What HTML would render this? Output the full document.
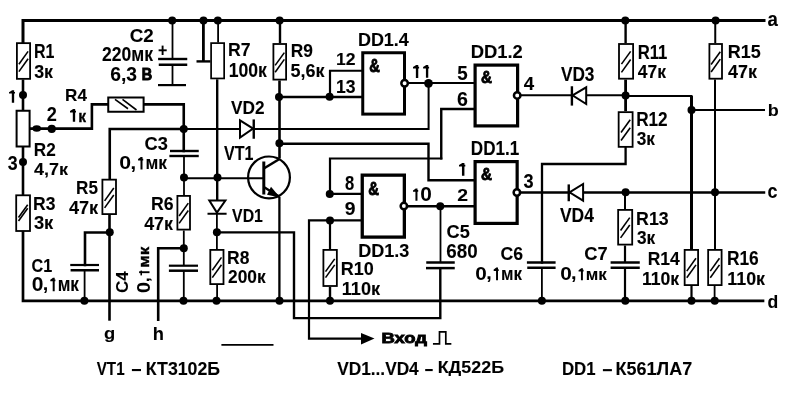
<!DOCTYPE html><html><head><meta charset="utf-8"><style>html,body{margin:0;padding:0;background:#fff;}body{width:803px;height:401px;overflow:hidden;font-family:"Liberation Sans",sans-serif;}svg{display:block;filter:grayscale(1);}</style></head><body><svg width="803" height="401" viewBox="0 0 803 401"><g fill="none" stroke="#000" stroke-linecap="square"><path d="M23,43 L23,20.5 L764,20.5" stroke-width="3"/><path d="M23,231 L23,300.8 L763,300.8" stroke-width="2.7"/><path d="M23,79.5 L23,110" stroke-width="2.6" stroke-linecap="butt"/><path d="M23,147 L23,195" stroke-width="2.6" stroke-linecap="butt"/><circle cx="23" cy="95" r="4" fill="#000" stroke="none"/><circle cx="23" cy="161.9" r="4" fill="#000" stroke="none"/><rect x="16.9" y="43.15" width="13.2" height="35.7" fill="#fff" stroke-width="1.8"/><path d="M18.9,64.2 L28.1,51.4" stroke-width="1.6" stroke-linecap="butt"/><path d="M18.9,71.6 L28.1,58.8" stroke-width="1.6" stroke-linecap="butt"/><rect x="16.6" y="110.75" width="13" height="35.75" fill="#fff" stroke-width="2"/><rect x="16.2" y="195.3" width="13.8" height="35.7" fill="#fff" stroke-width="1.8"/><path d="M18.5,217.55 L27.7,204.75" stroke-width="1.6" stroke-linecap="butt"/><path d="M18.5,221.05 L27.7,208.25" stroke-width="1.6" stroke-linecap="butt"/><path d="M30.6,128.6 L91.9,128.6 L91.9,104.4 L107.25,104.4" stroke-width="2.6"/><ellipse cx="36.75" cy="128.5" rx="4.25" ry="3.3" fill="#000" stroke="none"/><circle cx="51.75" cy="128.9" r="4.1" fill="#000" stroke="none"/><rect x="108.25" y="97.5" width="35.35" height="14.25" fill="#fff" stroke-width="2"/><path d="M115,99.4 L128,108.75" stroke-width="1.6" stroke-linecap="butt"/><path d="M122.5,99.4 L136.5,110" stroke-width="1.6" stroke-linecap="butt"/><path d="M144.6,104.4 L183.75,104.4 L183.75,151" stroke-width="2.6"/><circle cx="183.75" cy="129" r="4" fill="#000" stroke="none"/><path d="M183.75,129 L109.75,129 L109.75,178.75" stroke-width="2.6"/><path d="M183.75,129 L428.6,129 L428.6,83" stroke-width="2"/><path d="M170,151 L198.75,151" stroke-width="2.4" stroke-linecap="butt"/><path d="M169.4,156 L198.75,156" stroke-width="2.4" stroke-linecap="butt"/><path d="M184,156 L184,196" stroke-width="1.8" stroke-linecap="butt"/><circle cx="184" cy="177.5" r="4" fill="#000" stroke="none"/><path d="M184,178.3 L263.5,178.3" stroke-width="2"/><circle cx="217.5" cy="177.5" r="4" fill="#000" stroke="none"/><rect x="102.4" y="179.65" width="13.6" height="34.45" fill="#fff" stroke-width="1.8"/><path d="M104.6,200.88 L113.8,188.07" stroke-width="1.6" stroke-linecap="butt"/><path d="M104.6,207.88 L113.8,195.07" stroke-width="1.6" stroke-linecap="butt"/><path d="M109.5,215 L109.5,320.7" stroke-width="2.6" stroke-linecap="butt"/><circle cx="109.75" cy="232.25" r="4" fill="#000" stroke="none"/><path d="M109.75,232.5 L85,232.5 L85,265" stroke-width="2.6"/><path d="M70.25,265 L99,265" stroke-width="2.2" stroke-linecap="butt"/><path d="M70.6,270.25 L99,270.25" stroke-width="2.5" stroke-linecap="butt"/><path d="M84.6,270.25 L84.6,300.7" stroke-width="1.8" stroke-linecap="butt"/><circle cx="84.4" cy="300.7" r="4" fill="#000" stroke="none"/><rect x="177.4" y="195.9" width="12.6" height="33.7" fill="#fff" stroke-width="1.8"/><path d="M179.1,215.95 L188.3,203.15" stroke-width="1.6" stroke-linecap="butt"/><path d="M179.1,223.35 L188.3,210.55" stroke-width="1.6" stroke-linecap="butt"/><path d="M183.8,230.5 L183.8,265.7" stroke-width="1.8" stroke-linecap="butt"/><circle cx="183.8" cy="248.2" r="4" fill="#000" stroke="none"/><path d="M183.8,248.2 L158.2,248.2 L158.2,319.8" stroke-width="2.6"/><path d="M168.9,265.7 L198,265.7" stroke-width="2.2" stroke-linecap="butt"/><path d="M168.9,270.7 L198,270.7" stroke-width="2.5" stroke-linecap="butt"/><path d="M183.8,270.7 L183.8,300.7" stroke-width="1.8" stroke-linecap="butt"/><circle cx="183.5" cy="300.7" r="4" fill="#000" stroke="none"/><path d="M172.5,20.6 L172.5,59" stroke-width="1.8" stroke-linecap="butt"/><path d="M158.1,59 L187.25,59" stroke-width="2.4" stroke-linecap="butt"/><path d="M158.75,64.75 L187.25,64.75" stroke-width="2.5" stroke-linecap="butt"/><path d="M172.5,64.75 L172.5,85" stroke-width="1.8" stroke-linecap="butt"/><path d="M158,85.1 L186,85.1" stroke-width="2.2" stroke-linecap="butt"/><circle cx="172.2" cy="20.6" r="4" fill="#000" stroke="none"/><path d="M158.6,50.3 L166.7,50.3" stroke-width="1.9" stroke-linecap="butt"/><path d="M162.6,45.6 L162.6,55" stroke-width="1.9" stroke-linecap="butt"/><circle cx="203.5" cy="20.6" r="4" fill="#000" stroke="none"/><circle cx="217.8" cy="20.6" r="4" fill="#000" stroke="none"/><path d="M203.4,20.6 L203.4,61.4" stroke-width="2.8" stroke-linecap="butt"/><path d="M196.5,61.4 L210.5,61.4" stroke-width="2.4" stroke-linecap="butt"/><path d="M218.1,20.6 L218.1,42.5" stroke-width="1.8" stroke-linecap="butt"/><rect x="211.1" y="43.1" width="13.05" height="35.35" fill="#fff" stroke-width="1.7"/><path d="M217.2,79.3 L217.2,201" stroke-width="2.4" stroke-linecap="butt"/><path d="M209.3,200.5 L225.4,200.5 L216.9,212.6 Z" fill="#fff" stroke-width="2"/><path d="M207.5,213.75 L226.6,213.75" stroke-width="2" stroke-linecap="butt"/><path d="M216.9,213.75 L216.9,249" stroke-width="1.8" stroke-linecap="butt"/><circle cx="216.9" cy="232.25" r="4" fill="#000" stroke="none"/><rect x="210.3" y="249.9" width="13.2" height="34.2" fill="#fff" stroke-width="1.8"/><path d="M212.3,270.2 L221.5,257.4" stroke-width="1.6" stroke-linecap="butt"/><path d="M212.3,277.6 L221.5,264.8" stroke-width="1.6" stroke-linecap="butt"/><path d="M217.1,285 L217.1,300.7" stroke-width="1.8" stroke-linecap="butt"/><circle cx="216.5" cy="300.7" r="4" fill="#000" stroke="none"/><circle cx="279.6" cy="20.6" r="4" fill="#000" stroke="none"/><path d="M280,20.6 L280,43.1" stroke-width="2.4" stroke-linecap="butt"/><rect x="273.4" y="44" width="12.7" height="35.6" fill="#fff" stroke-width="1.8"/><path d="M275.15,65.4 L284.35,52.6" stroke-width="1.6" stroke-linecap="butt"/><path d="M275.15,72.2 L284.35,59.4" stroke-width="1.6" stroke-linecap="butt"/><path d="M279.5,80.5 L279.5,158.5" stroke-width="2.6" stroke-linecap="butt"/><circle cx="279" cy="97" r="4" fill="#000" stroke="none"/><circle cx="279.4" cy="143.3" r="4" fill="#000" stroke="none"/><path d="M279.5,97 L361,97" stroke-width="2.6"/><circle cx="329.6" cy="96.8" r="4" fill="#000" stroke="none"/><path d="M330,97 L330,70.75 L361,70.75" stroke-width="2.2"/><path d="M279.5,143.75 L428.5,143.75 L428.5,180.25 L473.5,180.25" stroke-width="2.4"/><circle cx="269" cy="177.4" r="20.9" fill="none" stroke-width="2.2"/><path d="M263.8,161.5 L263.8,194.5" stroke-width="3" stroke-linecap="butt"/><path d="M263.8,168.5 L279.5,159" stroke-width="2.6" stroke-linecap="butt"/><path d="M263.8,187 L279.5,196.8" stroke-width="2.4" stroke-linecap="butt"/><path d="M280,197.5 L267,194.8 L271,186.8 Z" fill="#000" stroke="none"/><path d="M279.4,196.8 L279.4,300.7" stroke-width="2.3" stroke-linecap="butt"/><circle cx="279.5" cy="300.7" r="4" fill="#000" stroke="none"/><path d="M240,120.3 L240,137.6 L253.1,128.6 Z" fill="#fff" stroke-width="2"/><path d="M253.75,119.4 L253.75,138.75" stroke-width="2.4" stroke-linecap="butt"/><rect x="362.75" y="52.75" width="41.75" height="61.35" fill="#fff" stroke-width="3"/><circle cx="404.6" cy="83.2" r="3.25" fill="#fff" stroke-width="2.5"/><path d="M408.2,83 L473.5,83" stroke-width="2"/><circle cx="428.5" cy="83.3" r="4.4" fill="#000" stroke="none"/><rect x="475.1" y="65.1" width="42.5" height="60.8" fill="#fff" stroke-width="3.2"/><circle cx="517.2" cy="95.4" r="3.25" fill="#fff" stroke-width="2.5"/><path d="M520.4,95.2 L625.6,95.2" stroke-width="2"/><path d="M625.6,96 L691.5,96 L691.5,249" stroke-width="2"/><path d="M691.5,96 L691.5,249" stroke-width="3" stroke-linecap="butt"/><path d="M441.25,158.4 L441.25,109 L473.5,109" stroke-width="2.4"/><path d="M572.5,95.4 L586.2,87.3 L586.2,104 Z" fill="#fff" stroke-width="2"/><path d="M571.9,86.25 L571.9,105.6" stroke-width="2.4" stroke-linecap="butt"/><rect x="362.25" y="175.15" width="42.1" height="61.95" fill="#fff" stroke-width="3.3"/><circle cx="403.9" cy="206.1" r="3.25" fill="#fff" stroke-width="2.5"/><path d="M361,193.9 L330,193.9 L330,158.5 L441.25,158.5" stroke-width="2.2"/><circle cx="329.75" cy="194" r="4" fill="#000" stroke="none"/><path d="M361,220.4 L309,220.4 L309,338.6 L362,338.6" stroke-width="2.2"/><path d="M374.5,338.6 L361,333 L361,344.4 Z" fill="#000" stroke="none"/><circle cx="330" cy="220.6" r="4" fill="#000" stroke="none"/><path d="M330,220.6 L330,249" stroke-width="2.2" stroke-linecap="butt"/><rect x="323.4" y="249.9" width="13.45" height="36.1" fill="#fff" stroke-width="1.8"/><path d="M325.52,271.65 L334.73,258.85" stroke-width="1.6" stroke-linecap="butt"/><path d="M325.52,277.65 L334.73,264.85" stroke-width="1.6" stroke-linecap="butt"/><path d="M330,286.9 L330,300.7" stroke-width="2.4" stroke-linecap="butt"/><circle cx="330" cy="300.8" r="4" fill="#000" stroke="none"/><path d="M407,206.25 L473.5,206.25" stroke-width="2.4"/><circle cx="440.25" cy="206.25" r="4" fill="#000" stroke="none"/><path d="M440.5,206.25 L440.5,262.5" stroke-width="1.8" stroke-linecap="butt"/><path d="M426.25,262.5 L454.75,262.5" stroke-width="2.5" stroke-linecap="butt"/><path d="M426,268.1 L454.75,268.1" stroke-width="2.5" stroke-linecap="butt"/><path d="M440.3,268.1 L440.3,318.1 L294,318.1 L294,232.4 L217,232.4" stroke-width="2.4"/><rect x="475.1" y="161.6" width="42.05" height="61.8" fill="#fff" stroke-width="3.2"/><circle cx="516.9" cy="192.5" r="3.25" fill="#fff" stroke-width="2.5"/><path d="M520.1,192.5 L764,192.6" stroke-width="2.5"/><path d="M569.5,192.3 L583.1,184 L583.1,200.6 Z" fill="#fff" stroke-width="2"/><path d="M568.75,184.4 L568.75,201.25" stroke-width="2.4" stroke-linecap="butt"/><path d="M625.6,147.5 L625.6,164 L542,164 L542,262.5" stroke-width="2.3"/><path d="M526.9,262.5 L555.6,262.5" stroke-width="2.5" stroke-linecap="butt"/><path d="M527.25,267.75 L555.6,267.75" stroke-width="2.5" stroke-linecap="butt"/><path d="M541.9,267.75 L541.9,300.7" stroke-width="1.8" stroke-linecap="butt"/><circle cx="541.9" cy="300.7" r="4" fill="#000" stroke="none"/><circle cx="625.3" cy="20.6" r="4" fill="#000" stroke="none"/><path d="M625.6,20.6 L625.6,43.1" stroke-width="2.4" stroke-linecap="butt"/><rect x="619" y="44" width="14.1" height="34.7" fill="#fff" stroke-width="1.8"/><path d="M621.45,64.15 L630.65,51.35" stroke-width="1.6" stroke-linecap="butt"/><path d="M621.45,72.35 L630.65,59.55" stroke-width="1.6" stroke-linecap="butt"/><path d="M625.6,79.6 L625.6,111.25" stroke-width="2.8" stroke-linecap="butt"/><circle cx="625.6" cy="95.4" r="4" fill="#000" stroke="none"/><rect x="618.65" y="112.15" width="13.95" height="34.7" fill="#fff" stroke-width="1.8"/><path d="M621.02,132.5 L630.23,119.7" stroke-width="1.6" stroke-linecap="butt"/><path d="M621.02,140.5 L630.23,127.7" stroke-width="1.6" stroke-linecap="butt"/><circle cx="625.6" cy="192.3" r="4" fill="#000" stroke="none"/><path d="M625,192.3 L625,209" stroke-width="2" stroke-linecap="butt"/><rect x="618.15" y="209.9" width="14.05" height="34.7" fill="#fff" stroke-width="1.8"/><path d="M620.57,230.45 L629.77,217.65" stroke-width="1.6" stroke-linecap="butt"/><path d="M620.57,237.85 L629.77,225.05" stroke-width="1.6" stroke-linecap="butt"/><path d="M625,245.5 L625,262.5" stroke-width="2.2" stroke-linecap="butt"/><path d="M610.6,262.5 L639.75,262.5" stroke-width="2.5" stroke-linecap="butt"/><path d="M610.6,267.75 L639.75,267.75" stroke-width="2.5" stroke-linecap="butt"/><path d="M625,267.75 L625,300.7" stroke-width="2.2" stroke-linecap="butt"/><circle cx="625.3" cy="300.7" r="4" fill="#000" stroke="none"/><rect x="684.65" y="249.9" width="13.45" height="35.2" fill="#fff" stroke-width="1.8"/><path d="M686.77,271.1 L695.98,258.3" stroke-width="1.6" stroke-linecap="butt"/><path d="M686.77,277.7 L695.98,264.9" stroke-width="1.6" stroke-linecap="butt"/><path d="M691.5,286 L691.5,300.7" stroke-width="2.2" stroke-linecap="butt"/><circle cx="691.5" cy="300.7" r="4" fill="#000" stroke="none"/><circle cx="691.5" cy="110" r="4" fill="#000" stroke="none"/><path d="M691.5,110 L764,110" stroke-width="2"/><circle cx="715.6" cy="20.6" r="4" fill="#000" stroke="none"/><path d="M715.25,20.6 L715.25,43.1" stroke-width="2" stroke-linecap="butt"/><rect x="709.4" y="44" width="12.6" height="34.7" fill="#fff" stroke-width="1.8"/><path d="M711.1,64.55 L720.3,51.75" stroke-width="1.6" stroke-linecap="butt"/><path d="M711.1,71.95 L720.3,59.15" stroke-width="1.6" stroke-linecap="butt"/><path d="M715,79.6 L715,249" stroke-width="2" stroke-linecap="butt"/><circle cx="715" cy="192.3" r="4" fill="#000" stroke="none"/><rect x="708.15" y="249.9" width="13.45" height="35.2" fill="#fff" stroke-width="1.8"/><path d="M710.27,271.1 L719.48,258.3" stroke-width="1.6" stroke-linecap="butt"/><path d="M710.27,277.7 L719.48,264.9" stroke-width="1.6" stroke-linecap="butt"/><path d="M714.6,286 L714.6,300.7" stroke-width="1.8" stroke-linecap="butt"/><circle cx="714.75" cy="300.7" r="4" fill="#000" stroke="none"/><path d="M221.4,344.8 L273.5,344.8" stroke-width="1.8" stroke-linecap="butt"/><path d="M433.8,343.8 L439.5,343.8 L439.5,331.8 L445.8,331.8 L445.8,343.8 L450.5,343.8" stroke-width="1.7"/><rect x="131.9" y="369" width="9.1" height="2.1" fill="#000" stroke="none"/><rect x="425.2" y="369" width="7.5" height="2.1" fill="#000" stroke="none"/><rect x="602.9" y="369.1" width="9" height="2.1" fill="#000" stroke="none"/><path d="M11.82,90.25 H14.16 V91.88 H15 V93.62 H14.16 V102.75 H11.82 V93.62 H9 V92.25 L11.82,90.5 Z" fill="#000" stroke="none"/><path d="M415.87,65 H418.25 V66.69 H419.1 V68.51 H418.25 V78 H415.87 V68.51 H413 V67.08 L415.87,65.26 Z" fill="#000" stroke="none"/><path d="M425.92,65 H428.26 V66.66 H429.1 V68.46 H428.26 V77.8 H425.92 V68.46 H423.1 V67.05 L425.92,65.26 Z" fill="#000" stroke="none"/><path d="M72.82,109 H75.16 V110.66 H76 V112.44 H75.16 V121.75 H72.82 V112.44 H70 V111.04 L72.82,109.25 Z" fill="#000" stroke="none"/><path d="M140.49,157.1 H142.5 V158.71 H143.22 V160.45 H142.5 V169.5 H140.49 V160.45 H138.07 V159.08 L140.49,157.35 Z" fill="#000" stroke="none"/><path d="M461.96,163 H464.42 V164.65 H465.3 V166.43 H464.42 V175.7 H461.96 V166.43 H459 V165.03 L461.96,163.25 Z" fill="#000" stroke="none"/><path d="M415.44,188.5 H417.47 V190.09 H418.2 V191.81 H417.47 V200.75 H415.44 V191.81 H413 V190.46 L415.44,188.75 Z" fill="#000" stroke="none"/><path d="M52.7,277.7 H54.69 V279.46 H55.4 V281.36 H54.69 V291.25 H52.7 V281.36 H50.3 V279.87 L52.7,277.97 Z" fill="#000" stroke="none"/><rect x="139.1" y="271.27" width="10.4" height="1.87" fill="#000" stroke="none"/><rect x="140.45" y="270.6" width="1.56" height="4.8" fill="#000" stroke="none"/><path d="M496.05,267.5 H498 V269.16 H498.71 V270.96 H498 V280.3 H496.05 V270.96 H493.69 V269.55 L496.05,267.76 Z" fill="#000" stroke="none"/><path d="M580.94,268.3 H582.9 V269.85 H583.6 V271.53 H582.9 V280.25 H580.94 V271.53 H578.57 V270.21 L580.94,268.54 Z" fill="#000" stroke="none"/></g><g fill="#000" font-family="Liberation Sans" font-weight="bold"><text transform="matrix(0.16017 0 0 0.19420 33.93 57.95)" font-size="100" stroke="#000" stroke-width="0.56">R1</text><text transform="matrix(0.17864 0 0 0.18873 34.19 77.76)" font-size="100" stroke="#000" stroke-width="0.54">3к</text><text transform="matrix(0.18833 0 0 0.18380 129.7 41.67)" font-size="100" stroke="#000" stroke-width="0.54">C2</text><text transform="matrix(0.17535 0 0 0.19577 102.02 61.25)" font-size="100" stroke="#000" stroke-width="0.54">220мк</text><text transform="matrix(0.19275 0 0 0.19437 110.18 80.66)" font-size="100" stroke="#000" stroke-width="0.52">6,3</text><text transform="matrix(0.14426 0 0 0.15870 141.64 80.3)" font-size="100" stroke="#000" stroke-width="5.94">В</text><text transform="matrix(0.17672 0 0 0.17681 228.11 56.45)" font-size="100" stroke="#000" stroke-width="0.57">R7</text><text transform="matrix(0.17630 0 0 0.19577 228.69 76.95)" font-size="100" stroke="#000" stroke-width="0.54">100к</text><text transform="matrix(0.17350 0 0 0.18592 290.64 57.06)" font-size="100" stroke="#000" stroke-width="0.56">R9</text><text transform="matrix(0.18011 0 0 0.19014 290.61 76.86)" font-size="100" stroke="#000" stroke-width="0.54">5,6к</text><text transform="matrix(0.17971 0 0 0.19203 357.94 45.7)" font-size="100" stroke="#000" stroke-width="0.54">DD1.4</text><text transform="matrix(0.17624 0 0 0.17143 335.99 65.45)" font-size="100" stroke="#000" stroke-width="0.58">12</text><text transform="matrix(0.17624 0 0 0.18873 335.99 92.66)" font-size="100" stroke="#000" stroke-width="0.55">13</text><text transform="matrix(0.14692 0 0 0.17929 369.21 72.17)" font-size="100" stroke="#000" stroke-width="4.90">&</text><text transform="matrix(0.18800 0 0 0.19571 457.19 79.55)" font-size="100" stroke="#000" stroke-width="0.52">5</text><text transform="matrix(0.19583 0 0 0.19718 456.97 105.95)" font-size="100" stroke="#000" stroke-width="0.51">6</text><text transform="matrix(0.18382 0 0 0.19286 470.76 57.85)" font-size="100" stroke="#000" stroke-width="0.53">DD1.2</text><text transform="matrix(0.15154 0 0 0.15786 481.04 83.19)" font-size="100" stroke="#000" stroke-width="5.17">&</text><text transform="matrix(0.18679 0 0 0.18841 523.78 89.95)" font-size="100" stroke="#000" stroke-width="0.53">4</text><text transform="matrix(0.17263 0 0 0.20423 560.88 81.45)" font-size="100" stroke="#000" stroke-width="0.53">VD3</text><text transform="matrix(0.16726 0 0 0.19855 637.68 58.75)" font-size="100" stroke="#000" stroke-width="0.55">R11</text><text transform="matrix(0.17484 0 0 0.18841 637.8 77.65)" font-size="100" stroke="#000" stroke-width="0.55">47к</text><text transform="matrix(0.17989 0 0 0.19000 727.79 58.46)" font-size="100" stroke="#000" stroke-width="0.54">R15</text><text transform="matrix(0.17925 0 0 0.18551 728.09 77.75)" font-size="100" stroke="#000" stroke-width="0.55">47к</text><text transform="matrix(0.18679 0 0 0.19818 767.59 25.75)" font-size="100" stroke="#000" stroke-width="0.52">a</text><text transform="matrix(0.17125 0 0 0.17391 65.1 101.45)" font-size="100" stroke="#000" stroke-width="0.58">R4</text><text transform="matrix(0.15581 0 0 0.15943 78.16 121.6)" font-size="100" stroke="#000" stroke-width="1.90">к</text><text transform="matrix(0.18163 0 0 0.19857 46.71 121.15)" font-size="100" stroke="#000" stroke-width="0.53">2</text><text transform="matrix(0.17179 0 0 0.18429 33.85 155.95)" font-size="100" stroke="#000" stroke-width="0.56">R2</text><text transform="matrix(0.18021 0 0 0.17246 33.89 175.45)" font-size="100" stroke="#000" stroke-width="0.57">4,7к</text><text transform="matrix(0.17800 0 0 0.19296 7.69 169.56)" font-size="100" stroke="#000" stroke-width="0.54">3</text><text transform="matrix(0.18250 0 0 0.19014 144.52 149.56)" font-size="100" stroke="#000" stroke-width="0.54">C3</text><text transform="matrix(0.21268 0 0 0.18169 119.25 169.32)" font-size="100">0</text><text transform="matrix(0.20200 0 0 0.17667 130.45 168.6)" font-size="100" stroke="#000" stroke-width="0.53">,</text><text transform="matrix(0.17347 0 0 0.17789 145.49 169.15)" font-size="100" stroke="#000" stroke-width="0.57">мк</text><text transform="matrix(0.17119 0 0 0.19143 76.05 193.76)" font-size="100" stroke="#000" stroke-width="0.55">R5</text><text transform="matrix(0.18176 0 0 0.18696 68.89 213.95)" font-size="100" stroke="#000" stroke-width="0.54">47к</text><text transform="matrix(0.17211 0 0 0.18429 231.08 113.95)" font-size="100" stroke="#000" stroke-width="0.56">VD2</text><text transform="matrix(0.16056 0 0 0.19565 224.09 159.75)" font-size="100" stroke="#000" stroke-width="0.56">VT1</text><text transform="matrix(0.16600 0 0 0.19296 344.95 189.76)" font-size="100" stroke="#000" stroke-width="0.56">8</text><text transform="matrix(0.14923 0 0 0.17929 368.3 195.02)" font-size="100" stroke="#000" stroke-width="4.87">&</text><text transform="matrix(0.17117 0 0 0.19565 470.85 154.55)" font-size="100" stroke="#000" stroke-width="0.55">DD1.1</text><text transform="matrix(0.19388 0 0 0.17000 457.27 201.35)" font-size="100" stroke="#000" stroke-width="0.55">2</text><text transform="matrix(0.15154 0 0 0.15786 481.04 180.04)" font-size="100" stroke="#000" stroke-width="5.17">&</text><text transform="matrix(0.18200 0 0 0.20845 523.59 187.64)" font-size="100" stroke="#000" stroke-width="0.51">3</text><text transform="matrix(0.20851 0 0 0.19366 420.27 200.56)" font-size="100">0</text><text transform="matrix(0.17209 0 0 0.19571 636.15 125.75)" font-size="100" stroke="#000" stroke-width="0.54">R12</text><text transform="matrix(0.17282 0 0 0.18873 636.7 145.16)" font-size="100" stroke="#000" stroke-width="0.55">3к</text><text transform="matrix(0.18000 0 0 0.17397 767.79 115.85)" font-size="100" stroke="#000" stroke-width="0.57">b</text><text transform="matrix(0.17959 0 0 0.19818 767.43 197.75)" font-size="100" stroke="#000" stroke-width="0.53">c</text><text transform="matrix(0.17521 0 0 0.18592 33.02 209.56)" font-size="100" stroke="#000" stroke-width="0.55">R3</text><text transform="matrix(0.18350 0 0 0.18310 33.88 229.37)" font-size="100" stroke="#000" stroke-width="0.55">3к</text><text transform="matrix(0.17692 0 0 0.18169 151.01 209.77)" font-size="100" stroke="#000" stroke-width="0.56">R6</text><text transform="matrix(0.17862 0 0 0.18116 144.19 229.75)" font-size="100" stroke="#000" stroke-width="0.56">47к</text><text transform="matrix(0.16198 0 0 0.18451 31.6 271.57)" font-size="100" stroke="#000" stroke-width="0.58">C1</text><text transform="matrix(0.21064 0 0 0.19789 31.66 291.05)" font-size="100">0</text><text transform="matrix(0.20000 0 0 0.17667 42.75 290.35)" font-size="100" stroke="#000" stroke-width="0.53">,</text><text transform="matrix(0.17179 0 0 0.19481 57.65 290.9)" font-size="100" stroke="#000" stroke-width="0.55">мк</text><text transform="matrix(0 -0.17 0.17 0 128.48 293.03)" font-size="100" stroke="#000" stroke-width="0.59">C4</text><text transform="matrix(0 -0.2 0.19 0 150.11 292.99)" font-size="100">0</text><text transform="matrix(0 -0.18 0.14 0 148.65 282.2)" font-size="100" stroke="#000" stroke-width="0.63">,</text><text transform="matrix(0 -0.17 0.15 0 149.3 267.71)" font-size="100" stroke="#000" stroke-width="2.45">мк</text><text transform="matrix(0.15812 0 0 0.18116 232.09 221.75)" font-size="100" stroke="#000" stroke-width="0.59">VD1</text><text transform="matrix(0.17458 0 0 0.18028 227.03 263.87)" font-size="100" stroke="#000" stroke-width="0.56">R8</text><text transform="matrix(0.17336 0 0 0.18028 228.03 283.47)" font-size="100" stroke="#000" stroke-width="0.57">200к</text><text transform="matrix(0.19375 0 0 0.17465 344.68 215.18)" font-size="100" stroke="#000" stroke-width="0.54">9</text><text transform="matrix(0.18077 0 0 0.18310 358.18 256.57)" font-size="100" stroke="#000" stroke-width="0.55">DD1.3</text><text transform="matrix(0.18023 0 0 0.19155 340.79 275.46)" font-size="100" stroke="#000" stroke-width="0.54">R10</text><text transform="matrix(0.18146 0 0 0.19155 341.76 295.36)" font-size="100" stroke="#000" stroke-width="0.54">110к</text><text transform="matrix(0.18182 0 0 0.18028 446.62 237.67)" font-size="100" stroke="#000" stroke-width="0.55">C5</text><text transform="matrix(0.18805 0 0 0.20141 446.3 257.65)" font-size="100" stroke="#000" stroke-width="0.51">680</text><text transform="matrix(0.17461 0 0 0.20435 559.98 222.05)" font-size="100" stroke="#000" stroke-width="0.53">VD4</text><text transform="matrix(0.17667 0 0 0.18732 500.54 260.16)" font-size="100" stroke="#000" stroke-width="0.55">C6</text><text transform="matrix(0.20701 0 0 0.18732 475.37 280.11)" font-size="100">0</text><text transform="matrix(0.19644 0 0 0.17667 486.28 279.4)" font-size="100" stroke="#000" stroke-width="0.54">,</text><text transform="matrix(0.16882 0 0 0.18377 500.92 279.95)" font-size="100" stroke="#000" stroke-width="0.57">мк</text><text transform="matrix(0.18319 0 0 0.19155 584.32 260.46)" font-size="100" stroke="#000" stroke-width="0.53">C7</text><text transform="matrix(0.20792 0 0 0.17535 560.17 280.07)" font-size="100">0</text><text transform="matrix(0.19733 0 0 0.17667 571.12 279.35)" font-size="100" stroke="#000" stroke-width="0.53">,</text><text transform="matrix(0.16957 0 0 0.17126 585.82 279.9)" font-size="100" stroke="#000" stroke-width="0.59">мк</text><text transform="matrix(0.17746 0 0 0.18451 636.11 224.97)" font-size="100" stroke="#000" stroke-width="0.55">R13</text><text transform="matrix(0.17282 0 0 0.18028 637 243.97)" font-size="100" stroke="#000" stroke-width="0.57">3к</text><text transform="matrix(0.17443 0 0 0.18841 647.73 265.25)" font-size="100" stroke="#000" stroke-width="0.55">R14</text><text transform="matrix(0.17659 0 0 0.19014 641.89 284.86)" font-size="100" stroke="#000" stroke-width="0.55">110к</text><text transform="matrix(0.17341 0 0 0.19859 726.94 265.05)" font-size="100" stroke="#000" stroke-width="0.54">R16</text><text transform="matrix(0.17854 0 0 0.19014 727.28 284.96)" font-size="100" stroke="#000" stroke-width="0.54">110к</text><text transform="matrix(0.17600 0 0 0.18699 767.45 307.7)" font-size="100" stroke="#000" stroke-width="0.55">d</text><text transform="matrix(0.18400 0 0 0.17067 104.11 339.07)" font-size="100" stroke="#000" stroke-width="0.56">g</text><text transform="matrix(0.18333 0 0 0.18904 152.67 339.75)" font-size="100" stroke="#000" stroke-width="0.54">h</text><text transform="matrix(0.18403 0 0 0.14382 381.41 342.62)" font-size="100" stroke="#000" stroke-width="6.10">Вход</text><text transform="matrix(0.15222 0 0 0.18696 96.7 375.05)" font-size="100" stroke="#000" stroke-width="0.59">VT1</text><text transform="matrix(0.17745 0 0 0.17887 145.81 374.57)" font-size="100" stroke="#000" stroke-width="0.56">КТ3102Б</text><text transform="matrix(0.17282 0 0 0.18551 337.18 374.85)" font-size="100" stroke="#000" stroke-width="0.56">VD1...VD4</text><text transform="matrix(0.17889 0 0 0.15778 437.7 373.19)" font-size="100" stroke="#000" stroke-width="0.59">КД522Б</text><text transform="matrix(0.16789 0 0 0.18406 561.97 374.85)" font-size="100" stroke="#000" stroke-width="0.57">DD1</text><text transform="matrix(0.17995 0 0 0.18028 615.59 374.77)" font-size="100" stroke="#000" stroke-width="0.56">К561ЛА7</text></g></svg></body></html>
